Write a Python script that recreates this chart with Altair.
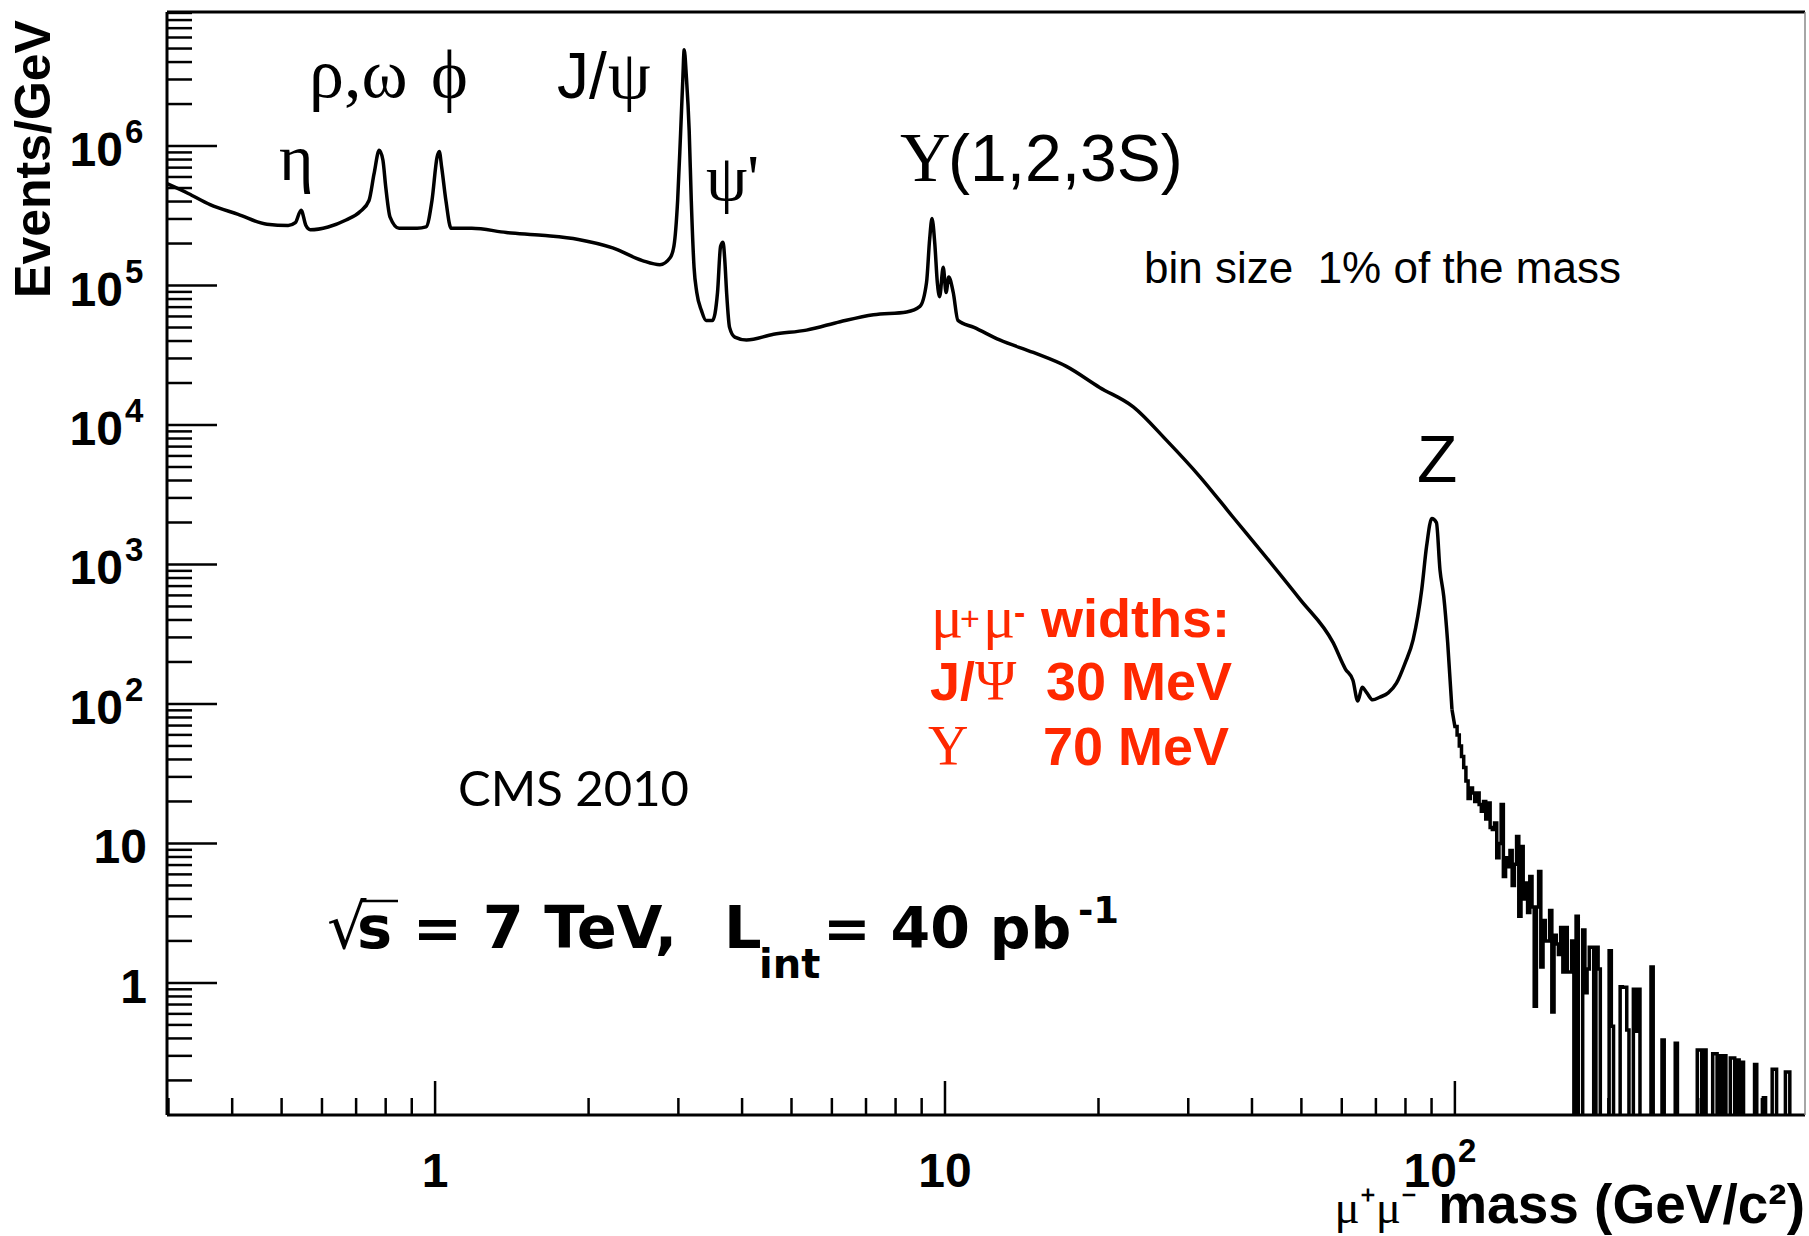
import altair as alt
import pandas as pd

# ---------------- data ----------------
# dimuon mass (GeV) and events/GeV along the smooth part of the spectrum
mass = [0.298, 0.328, 0.362, 0.411, 0.468, 0.515, 0.532, 0.546, 0.558, 0.569,
        0.617, 0.669, 0.713, 0.742, 0.759, 0.777, 0.790, 0.800, 0.816, 0.850,
        0.922, 0.960, 0.986, 1.009, 1.019, 1.030, 1.050, 1.075, 1.18, 1.38,
        1.62, 1.91, 2.23, 2.55, 2.76, 2.89, 2.94, 2.99, 3.03, 3.06,
        3.08, 3.11, 3.15, 3.18, 3.22, 3.26, 3.33, 3.40, 3.50, 3.58,
        3.63, 3.67, 3.70, 3.73, 3.78, 3.87, 4.08, 4.61, 5.35, 6.23,
        7.24, 8.41, 8.93, 9.20, 9.33, 9.43, 9.55, 9.66, 9.76, 9.92,
        10.05, 10.17, 10.38, 10.6, 11.4, 12.8, 14.9, 17.3, 20.1, 23.4,
        27.2, 31.6, 36.7, 42.7, 49.7, 57.7, 61.0, 63.1, 64.5, 65.8,
        67.2, 69.0, 71.3, 74.0, 76.8, 79.8, 82.8, 86.1, 88.0, 90.1,
        92.0, 93.5, 95.1, 96.8, 98.7]
events = [5.37e5, 4.57e5, 3.80e5, 3.24e5, 2.75e5, 2.69e5, 2.82e5, 3.47e5, 2.69e5, 2.51e5,
          2.63e5, 2.95e5, 3.39e5, 4.07e5, 6.31e5, 9.33e5, 7.94e5, 5.13e5, 3.09e5, 2.57e5,
          2.57e5, 2.63e5, 4.07e5, 8.32e5, 9.12e5, 7.08e5, 4.07e5, 2.57e5, 2.57e5, 2.40e5,
          2.29e5, 2.14e5, 1.86e5, 1.51e5, 1.41e5, 1.58e5, 1.91e5, 4.07e5, 1.23e6, 2.95e6,
          4.90e6, 3.16e6, 1.29e6, 4.07e5, 1.35e5, 8.91e4, 6.61e4, 5.62e4, 5.62e4, 8.91e4,
          1.91e5, 2.04e5, 1.51e5, 8.91e4, 5.01e4, 4.27e4, 4.07e4, 4.47e4, 4.79e4, 5.50e4,
          6.17e4, 6.46e4, 7.08e4, 1.05e5, 2.14e5, 3.02e5, 2.00e5, 1.05e5, 8.32e4, 1.35e5,
          8.91e4, 1.15e5, 8.91e4, 5.62e4, 5.01e4, 4.07e4, 3.31e4, 2.63e4, 1.86e4, 1.35e4,
          7.76e3, 4.27e3, 2.19e3, 1.12e3, 562, 275, 178, 148, 105, 132,
          120, 107, 112, 120, 141, 195, 288, 661, 1349, 2138,
          1995, 912, 589, 275, 91]

# high-mass tail: one value per 1% bin starting at 100 GeV (0 = empty bin)
tail_first_edge = 100.0
tail_bin_ratio = 1.01
tail_events = [69, 60, 50, 42, 35, 28, 21, 25, 23, 20,
               23, 19, 17, 20, 15, 19.5, 13, 12.6, 14, 7.9,
               10, 19, 5.8, 7.9, 6.8, 8.9, 5.0, 7.1, 11.2, 3.0,
               9.5, 4.0, 5.2, 3.2, 5.8, 3.5, 0.68, 3.5, 6.3, 1.3,
               2.8, 2.0, 2.0, 3.3, 0.62, 2.2, 1.9, 1.6, 2.5, 1.2,
               2.5, 1.2, 1.2, 2.0, 0, 3.0, 0, 0, 2.4, 0.85,
               1.26, 1.8, 1.8, 0, 1.8, 1.26, 0, 0, 0, 0,
               1.7, 0.49, 0, 0, 0, 0.94, 0.93, 0.93, 0.46, 0,
               0, 0.9, 0.45, 0.9, 0, 0, 0, 0, 0, 1.3,
               0, 0, 0, 0, 0.39, 0, 0, 0, 0, 0,
               0.37, 0, 0, 0, 0, 0, 0, 0, 0, 0,
               0.33, 0.33, 0, 0.33, 0, 0, 0, 0.31, 0.31, 0,
               0.30, 0, 0.30, 0, 0, 0.29, 0.29, 0, 0.28, 0,
               0.27, 0, 0, 0, 0, 0, 0.26, 0, 0, 0,
               0.15, 0, 0, 0, 0.24, 0.24, 0, 0, 0, 0,
               0.23, 0.23, 0, 0, 0, 0, 0, 0, 0, 0, 0]

y_major = [1, 10, 100, 1e3, 1e4, 1e5, 1e6]
y_exp_values = [100, 1e3, 1e4, 1e5, 1e6]
y_exp_labels = ["2", "3", "4", "5", "6"]
y_plain_values = [1, 10]
y_plain_labels = ["1", "10"]
x_major = [1, 10, 100]
x_plain_values = [1, 10]
x_plain_labels = ["1", "10"]

# ---------------- layout ----------------
W, H = 1638, 1103
xs = alt.Scale(type="log", domain=[0.298, 486], nice=False, zero=False)
ys = alt.Scale(type="log", domain=[0.113, 9.14e6], nice=False, zero=False)
EMPTY = 1e-3  # empty bins drop below the axis (clipped)

smooth = pd.DataFrame({"m": mass, "v": events})
smooth["i"] = range(len(smooth))

rows = [{"m": mass[-1], "v": events[-1]}]
edge = tail_first_edge
for v in tail_events:
    hi = edge * tail_bin_ratio
    val = v if v > 0 else EMPTY
    rows.append({"m": edge, "v": val})
    rows.append({"m": hi, "v": val})
    edge = hi
tail = pd.DataFrame(rows)
tail["i"] = range(len(tail))

y_minor = []
for d in [0.1, 1, 10, 100, 1e3, 1e4, 1e5, 1e6]:
    for k in range(2, 10):
        t = d * k
        if 0.113 < t < 9.14e6:
            y_minor.append(t)
x_minor = []
for d in [0.1, 1, 10, 100]:
    for k in range(2, 10):
        t = d * k
        if 0.3 < t < 486:
            x_minor.append(t)

one = pd.DataFrame({"a": [0]})
SANS = "Liberation Sans"
SERIF = "Liberation Serif"
RED = "#ff2800"


def label(text, x, y, size, font=SANS, weight="normal", color="black",
          align="left", angle=0):
    return alt.Chart(one).mark_text(
        text=text, font=font, fontSize=size, fontWeight=weight, color=color,
        align=align, baseline="alphabetic", angle=angle
    ).encode(x=alt.value(x), y=alt.value(y))


layers = []

# histogram
layers.append(
    alt.Chart(smooth).mark_line(color="black", strokeWidth=3.5, clip=True,
                                interpolate="monotone")
    .encode(x=alt.X("m:Q", scale=xs, axis=None),
            y=alt.Y("v:Q", scale=ys, axis=None),
            order="i:Q")
)
layers.append(
    alt.Chart(tail).mark_line(color="black", strokeWidth=3.5, clip=True)
    .encode(x=alt.X("m:Q", scale=xs, axis=None),
            y=alt.Y("v:Q", scale=ys, axis=None),
            order="i:Q")
)

# frame
layers.append(alt.Chart(one).mark_rule(color="black", strokeWidth=3)
              .encode(x=alt.value(0), y=alt.value(0), y2=alt.value(H)))
layers.append(alt.Chart(one).mark_rule(color="black", strokeWidth=3)
              .encode(x=alt.value(0), x2=alt.value(W), y=alt.value(H)))
layers.append(alt.Chart(one).mark_rule(color="black", strokeWidth=3)
              .encode(x=alt.value(0), x2=alt.value(W), y=alt.value(0)))
layers.append(alt.Chart(one).mark_rule(color="#888888", strokeWidth=1.5)
              .encode(x=alt.value(W), y=alt.value(0), y2=alt.value(H)))

# y ticks
layers.append(alt.Chart(pd.DataFrame({"t": y_major})).mark_rule(color="black", strokeWidth=2.5)
              .encode(y=alt.Y("t:Q", scale=ys, axis=None), x=alt.value(0), x2=alt.value(50)))
layers.append(alt.Chart(pd.DataFrame({"t": y_minor})).mark_rule(color="black", strokeWidth=2.5)
              .encode(y=alt.Y("t:Q", scale=ys, axis=None), x=alt.value(0), x2=alt.value(25)))
# x ticks
layers.append(alt.Chart(pd.DataFrame({"t": x_major})).mark_rule(color="black", strokeWidth=2.5)
              .encode(x=alt.X("t:Q", scale=xs, axis=None), y=alt.value(H), y2=alt.value(H - 34)))
layers.append(alt.Chart(pd.DataFrame({"t": x_minor})).mark_rule(color="black", strokeWidth=2.5)
              .encode(x=alt.X("t:Q", scale=xs, axis=None), y=alt.value(H), y2=alt.value(H - 17)))

# y tick labels
yexp = pd.DataFrame({"t": y_exp_values, "e": y_exp_labels})
layers.append(alt.Chart(yexp).mark_text(text="10", font=SANS, fontWeight="bold", fontSize=48,
                                        align="right", baseline="alphabetic", dy=20)
              .encode(y=alt.Y("t:Q", scale=ys, axis=None), x=alt.value(-44)))
layers.append(alt.Chart(yexp).mark_text(font=SANS, fontWeight="bold", fontSize=33,
                                        align="left", baseline="alphabetic", dy=-3)
              .encode(y=alt.Y("t:Q", scale=ys, axis=None), x=alt.value(-42), text="e:N"))
yplain = pd.DataFrame({"t": y_plain_values, "s": y_plain_labels})
layers.append(alt.Chart(yplain).mark_text(font=SANS, fontWeight="bold", fontSize=48,
                                          align="right", baseline="alphabetic", dy=20)
              .encode(y=alt.Y("t:Q", scale=ys, axis=None), x=alt.value(-20), text="s:N"))

# x tick labels
xplain = pd.DataFrame({"t": x_plain_values, "s": x_plain_labels})
layers.append(alt.Chart(xplain).mark_text(font=SANS, fontWeight="bold", fontSize=48,
                                          align="center", baseline="alphabetic")
              .encode(x=alt.X("t:Q", scale=xs, axis=None), y=alt.value(H + 72), text="s:N"))
xexp = pd.DataFrame({"t": [100], "e": ["2"]})
layers.append(alt.Chart(xexp).mark_text(text="10", font=SANS, fontWeight="bold", fontSize=48,
                                        align="right", baseline="alphabetic", dx=2)
              .encode(x=alt.X("t:Q", scale=xs, axis=None), y=alt.value(H + 72)))
layers.append(alt.Chart(xexp).mark_text(font=SANS, fontWeight="bold", fontSize=33,
                                        align="left", baseline="alphabetic", dx=3)
              .encode(x=alt.X("t:Q", scale=xs, axis=None), y=alt.value(H + 47), text="e:N"))

# axis titles
layers.append(label("Events/GeV", -117, 147, 50, weight="bold", align="center", angle=270))
layers.append(label("μ⁺μ⁻", 1250, 1211, 47, font=SERIF, align="right"))
layers.append(label("mass (GeV/c²)", W, 1211, 55, weight="bold", align="right"))

# resonance labels
layers.append(label("η", 112, 168, 66, font=SERIF))
layers.append(label("ρ,ω", 142, 85, 70, font=SERIF))
layers.append(label("ϕ", 264, 86, 70, font=SERIF))
layers.append(label("J/", 390, 86, 64))
layers.append(label("ψ", 441, 86, 68, font=SERIF))
layers.append(label("ψ'", 539, 188, 66, font=SERIF))
layers.append(label("Υ", 733, 169, 70, font=SERIF))
layers.append(label("(1,2,3S)", 781, 169, 66))
layers.append(label("Z", 1250, 470, 66))

layers.append(label("bin size\u00a0\u00a01% of the mass", 977, 271, 44))
layers.append(label("CMS 2010", 291, 794, 49, font="Lato"))

# sqrt(s) line
layers.append(label("√", 160, 936, 62, font="DejaVu Sans"))
layers.append(alt.Chart(one).mark_rule(color="black", strokeWidth=2.5)
              .encode(x=alt.value(194), x2=alt.value(231), y=alt.value(889)))
layers.append(label("s = 7 TeV,", 190, 936, 59, font="DejaVu Sans", weight="bold"))
layers.append(label("L", 557, 936, 59, font="DejaVu Sans", weight="bold"))
layers.append(label("int", 592, 966, 40, font="DejaVu Sans", weight="bold"))
layers.append(label("= 40 pb", 656, 936, 57, font="DejaVu Sans", weight="bold"))
layers.append(label("-1", 911, 911, 37, font="DejaVu Sans", weight="bold"))

# red widths box
layers.append(label("μ", 764, 625, 60, font=SERIF, color=RED))
layers.append(label("+", 793, 618, 34, color=RED))
layers.append(label("μ", 816, 625, 60, font=SERIF, color=RED))
layers.append(label("-", 847, 612, 34, weight="bold", color=RED))
layers.append(label("widths:", 874, 625, 54, weight="bold", color=RED))
layers.append(label("J/", 763, 688, 54, weight="bold", color=RED))
layers.append(label("Ψ", 808, 688, 56, font=SERIF, color=RED))
layers.append(label("30 MeV", 879, 688, 54, weight="bold", color=RED))
layers.append(label("Υ", 761, 753, 56, font=SERIF, color=RED))
layers.append(label("70 MeV", 876, 753, 54, weight="bold", color=RED))

chart = alt.layer(*layers).properties(
    width=W, height=H,
    padding={"left": 167, "top": 12, "right": 4, "bottom": 121},
    autosize=alt.AutoSizeParams(type="none"),
    background="white",
).configure_view(stroke=None)

chart.save("out.html", embed_options={"renderer": "svg", "actions": False})
